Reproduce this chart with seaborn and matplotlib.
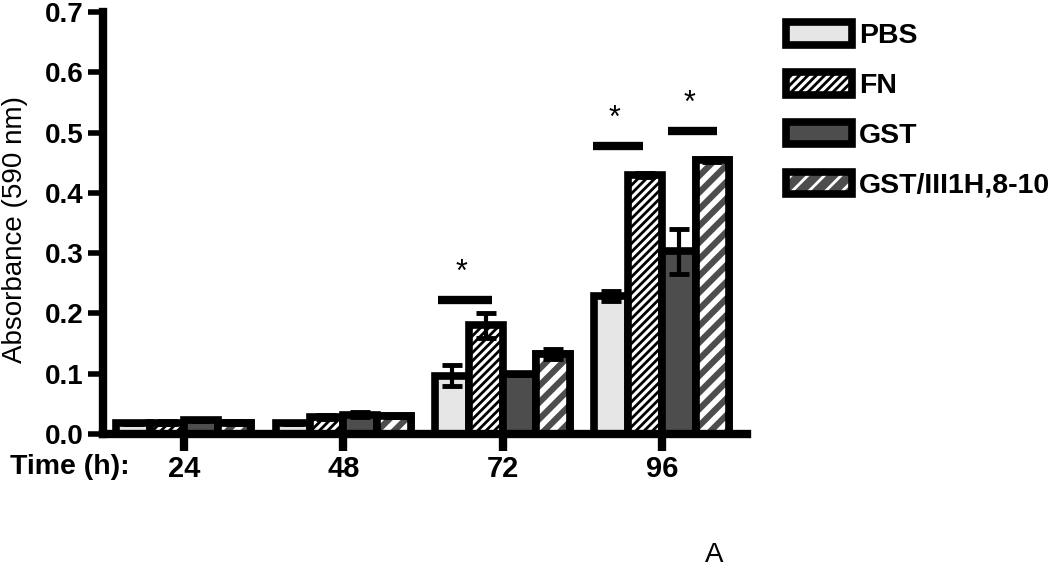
import matplotlib
matplotlib.use("Agg")
import matplotlib.pyplot as plt
from matplotlib.patches import Rectangle, Patch
from matplotlib.legend_handler import HandlerTuple
import seaborn as sns
import pandas as pd
import numpy as np

# values
times = ["24", "48", "72", "96"]
treatments = ["PBS", "FN", "GST", "GST/III1H,8-10"]
pbs = [0.018, 0.018, 0.097, 0.229]
fn = [0.019, 0.028, 0.180, 0.430]
gst = [0.023, 0.032, 0.100, 0.303]
gst_iii = [0.019, 0.030, 0.133, 0.454]
pbs_err = [0.002, 0.002, 0.017, 0.008]
fn_err = [0.002, 0.003, 0.021, 0.003]
gst_err = [0.002, 0.004, 0.002, 0.037]
gst_iii_err = [0.002, 0.002, 0.008, 0.003]

colors = ["#e6e6e6", "#ffffff", "#4d4d4d", "#4d4d4d"]

rows = []
for t, vals, errs in zip(treatments, [pbs, fn, gst, gst_iii],
                         [pbs_err, fn_err, gst_err, gst_iii_err]):
    for tm, v, e in zip(times, vals, errs):
        rows.append({"time": tm, "treatment": t, "absorbance": v, "err": e})
df = pd.DataFrame(rows)

sns.set_theme(style="white", rc={"axes.grid": False})
plt.rcParams["font.family"] = ["Liberation Sans", "DejaVu Sans"]
plt.rcParams["hatch.linewidth"] = 2.0

fig = plt.figure(figsize=(10.5, 5.68), dpi=100)
ax = fig.add_axes([0.0981, 0.2359, 0.6133, 0.743])

lw = 5.5
sns.barplot(data=df, x="time", y="absorbance", hue="treatment", order=times,
            hue_order=treatments, palette=colors, saturation=1, width=0.847,
            errorbar=None, edgecolor="black", linewidth=lw, ax=ax, legend=False)

# FN: black hatch
for p in ax.containers[1]:
    p.set_hatch("////")
    if hasattr(p, "set_hatch_linewidth"):
        p.set_hatch_linewidth(2.0)

# GST/III1H,8-10: white hatch over dark grey
plt.rcParams["hatch.linewidth"] = 4.0
for p in ax.containers[3]:
    h = Rectangle((p.get_x(), p.get_y()), p.get_width(), p.get_height(),
                  facecolor="none", edgecolor="white", hatch="//", linewidth=0,
                  zorder=p.get_zorder() + 0.1)
    if hasattr(h, "set_hatch_linewidth"):
        h.set_hatch_linewidth(4.0)
    ax.add_patch(h)
    ax.add_patch(Rectangle((p.get_x(), p.get_y()), p.get_width(), p.get_height(),
                           fill=False, edgecolor="black", linewidth=lw,
                           zorder=p.get_zorder() + 0.2))

# error bars
for i, t in enumerate(treatments):
    sub = df[df["treatment"] == t].set_index("time").loc[times]
    xs = [p.get_x() + p.get_width() / 2 for p in ax.containers[i]]
    ax.errorbar(xs, sub["absorbance"], yerr=sub["err"], fmt="none",
                ecolor="black", elinewidth=3, capsize=7.5, capthick=3.5, zorder=5)

# significance bars
sig = [((1.594, 1.933), 0.222), ((2.567, 2.881), 0.478), ((3.038, 3.346), 0.502)]
for (x0, x1), y in sig:
    ax.plot([x0, x1], [y, y], color="black", linewidth=6, solid_capstyle="butt",
            zorder=6)
    ax.text((x0 + x1) / 2 - 0.02, y + 0.02, "*", ha="center", va="bottom",
            fontsize=22, color="black")

ax.set_xlim(-0.508, 3.534)
ax.set_ylim(0, 0.7)
ax.set_yticks(np.arange(0, 0.71, 0.1))
ax.set_yticklabels([f"{v:.1f}" for v in np.arange(0, 0.71, 0.1)],
                   fontsize=20, fontweight="bold")
ax.set_xticks(range(len(times)))
ax.set_xticklabels(times, fontsize=21, fontweight="bold")
ax.set_xlabel("")
ax.set_ylabel("Absorbance (590 nm)", fontsize=20, color="black")
ax.yaxis.set_label_coords(-0.117, 0.485)

for side in ["top", "right"]:
    ax.spines[side].set_visible(False)
for side in ["left", "bottom"]:
    ax.spines[side].set_linewidth(6)
    ax.spines[side].set_color("black")
ax.tick_params(axis="x", direction="out", length=12, width=6, pad=3,
               colors="black", bottom=True)
ax.tick_params(axis="y", direction="out", length=11, width=4, pad=3,
               colors="black", left=True)

fig.text(10 / 1050, 1 - 467 / 568, "Time (h):", fontsize=20.5, fontweight="bold",
         va="center", ha="left", color="black")
fig.text(714 / 1050, 1 - 555 / 568, "A", fontsize=20, va="center", ha="center",
         color="black")

# legend
plt.rcParams["hatch.linewidth"] = 2.0
handles = [
    Patch(facecolor=colors[0], edgecolor="black", linewidth=lw),
    Patch(facecolor=colors[1], edgecolor="black", linewidth=lw, hatch="////"),
    Patch(facecolor=colors[2], edgecolor="black", linewidth=lw),
    (Patch(facecolor=colors[3], edgecolor="white", linewidth=0, hatch="//"),
     Patch(fill=False, edgecolor="black", linewidth=lw)),
]
leg = fig.legend(handles, treatments, loc="upper left",
                 bbox_to_anchor=(0.749, 0.961), frameon=False,
                 handler_map={tuple: HandlerTuple(ndivide=1)},
                 prop={"size": 20.5, "weight": "bold"}, handlelength=2.3,
                 handleheight=0.84, handletextpad=0.25, labelspacing=0.8,
                 borderpad=0, borderaxespad=0, labelcolor="black")

fig.savefig("out.png", dpi=100)
